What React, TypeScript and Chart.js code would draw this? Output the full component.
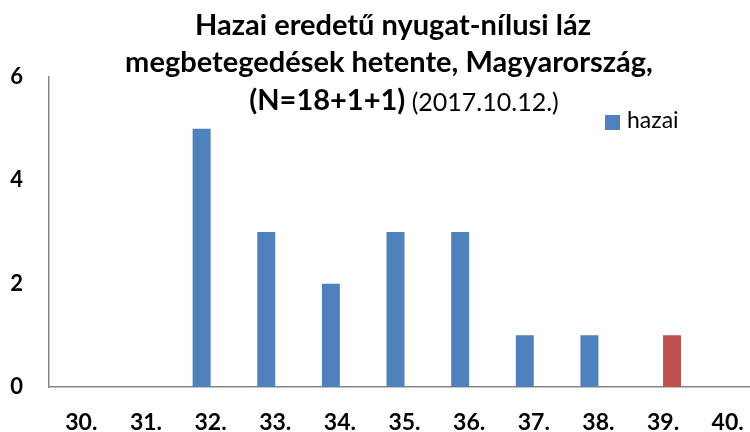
import React, { useEffect, useRef } from "react";
import { Chart, registerables } from "chart.js";

Chart.register(...registerables);

const weeks = ["30.", "31.", "32.", "33.", "34.", "35.", "36.", "37.", "38.", "39.", "40."];
const hazaiValues = [0, 0, 5, 3, 2, 3, 3, 1, 1, 0, 0];
const otherValues = [0, 0, 0, 0, 0, 0, 0, 0, 0, 1, 0];
const yTicks = [0, 2, 4, 6];
const titleLines = ["Hazai eredetű nyugat-nílusi láz", "megbetegedések hetente, Magyarország,"];
const titleBoldPart = "(N=18+1+1)";
const titleDatePart = " (2017.10.12.)";
const seriesNames = ["hazai", "további eset"];

const FONT = "Lato, 'Open Sans', sans-serif";
const BLUE = "#4F81BD";
const RED = "#C0504D";
const AXIS = "#868686";

const overlayPlugin = {
  id: "overlay",
  afterDraw(chart: any) {
    const ctx = chart.ctx;
    ctx.save();
    ctx.fillStyle = "#000";
    ctx.textBaseline = "middle";
    ctx.textAlign = "center";
    ctx.font = `bold 29px ${FONT}`;
    ctx.fillText(titleLines[0], 393, 26);
    ctx.fillText(titleLines[1], 389, 63);
    ctx.font = `bold 29px ${FONT}`;
    const w1 = ctx.measureText(titleBoldPart).width;
    ctx.font = `25px ${FONT}`;
    const w2 = ctx.measureText(titleDatePart).width;
    const start = 404 - (w1 + w2) / 2;
    ctx.textAlign = "left";
    ctx.font = `bold 29px ${FONT}`;
    ctx.fillText(titleBoldPart, start, 101);
    ctx.font = `25px ${FONT}`;
    ctx.fillText(titleDatePart, start + w1, 103);

    // legend (first series only)
    const ds = chart.data.datasets[0];
    ctx.fillStyle = ds.backgroundColor;
    ctx.fillRect(605, 115, 15, 15);
    ctx.fillStyle = "#000";
    ctx.font = `23px ${FONT}`;
    ctx.fillText(ds.label, 627, 121);
    ctx.restore();
  },
};

export default function App() {
  const ref = useRef<HTMLCanvasElement>(null);
  useEffect(() => {
    document.documentElement.style.overflow = "hidden";
    document.body.style.overflow = "hidden";
    const chart = new Chart(ref.current!, {
      type: "bar",
      data: {
        labels: weeks,
        datasets: [
          { label: seriesNames[0], data: hazaiValues, backgroundColor: BLUE },
          { label: seriesNames[1], data: otherValues, backgroundColor: RED },
        ],
      },
      options: {
        responsive: false,
        animation: false,
        layout: { padding: { top: 77, right: 10, left: 0, bottom: 0 } },
        plugins: { legend: { display: false }, title: { display: false }, tooltip: { enabled: false } },
        datasets: { bar: { categoryPercentage: 0.556, barPercentage: 1 } },
        scales: {
          x: {
            grid: { display: false, drawTicks: false },
            border: { display: true, color: AXIS, width: 1.5 },
            ticks: { color: "#000", font: { family: FONT, size: 23, weight: "bold" }, padding: 22, maxRotation: 0, autoSkip: false },
            afterFit: (s: any) => { s.height = 45; },
          },
          y: {
            min: 0,
            max: 6,
            afterBuildTicks: (s: any) => { s.ticks = yTicks.map((v) => ({ value: v })); },
            grid: { display: false, drawTicks: false },
            border: { display: true, color: AXIS, width: 1.5 },
            ticks: { color: "#000", font: { family: FONT, size: 22, weight: "bold" }, padding: 26 },
            afterFit: (s: any) => { s.width = 49; },
          },
        },
      },
      plugins: [overlayPlugin],
    });
    return () => chart.destroy();
  }, []);
  return (
    <div style={{ position: "fixed", left: 0, top: 0, width: 770, height: 432, background: "#fff" }}>
      <canvas ref={ref} width={770} height={432} style={{ display: "block" }} />
    </div>
  );
}
